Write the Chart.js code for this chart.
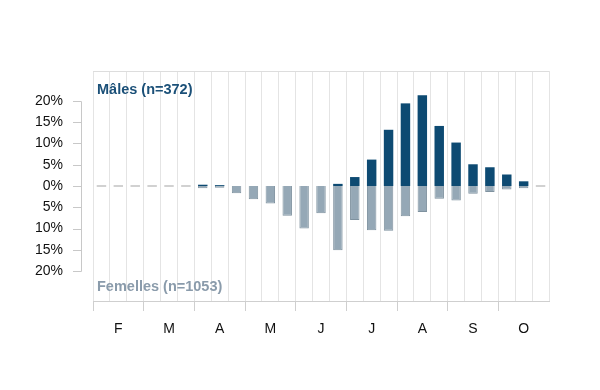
<!DOCTYPE html>
<html>
<head>
<meta charset="utf-8">
<script src="https://cdn.jsdelivr.net/npm/chart.js@4.4.1/dist/chart.umd.min.js"></script>
<style>
  html, body { margin: 0; padding: 0; background: #fff; }
  #wrap { width: 600px; height: 390px; }
</style>
</head>
<body>
<div id="wrap"><canvas id="myChart" width="600" height="390"></canvas></div>
<script>
// 3 periods per month, February to October
const months = ['F', 'M', 'A', 'M', 'J', 'J', 'A', 'S', 'O'];
const categories = months.flatMap(m => [m + '1', m + '2', m + '3']);

// % of males / females per period
const males = [0, 0, 0, 0, 0, 0, 0.3, 0.2, 0, 0, 0, 0, 0, 0, 0.5, 2.1, 6.2, 13.2, 19.4, 21.3, 14.1, 10.2, 5.1, 4.4, 2.7, 1.1, 0];
const females = [0, 0, 0, 0, 0, 0, 0.5, 0.4, 1.7, 3.1, 4.1, 7.0, 10.0, 6.4, 15.1, 8.0, 10.4, 10.5, 7.1, 6.1, 3.0, 3.4, 1.8, 1.4, 0.8, 0.5, 0];
const yTicks = [20, 15, 10, 5, 0, -5, -10, -15, -20];

const maleLabel = 'Mâles (n=372)';
const femaleLabel = 'Femelles (n=1053)';

const maleColor = '#0d4a72';
const femaleColor = '#95a8b6';

// left bracket axis, top border and the two group labels
const decorations = {
  id: 'decorations',
  afterDraw(chart) {
    const ctx = chart.ctx;
    const area = chart.chartArea;
    const y = chart.scales.y;
    const xLine = area.left - 12;
    ctx.save();
    ctx.strokeStyle = '#c8c8c8';
    ctx.lineWidth = 1;
    ctx.beginPath();
    ctx.moveTo(xLine + 0.5, Math.round(y.getPixelForValue(20)) + 0.5);
    ctx.lineTo(xLine + 0.5, Math.round(y.getPixelForValue(-20)) + 0.5);
    yTicks.forEach(v => {
      const py = Math.round(y.getPixelForValue(v)) + 0.5;
      ctx.moveTo(xLine - 8, py);
      ctx.lineTo(xLine + 0.5, py);
    });
    ctx.stroke();

    ctx.strokeStyle = '#dddddd';
    ctx.beginPath();
    ctx.moveTo(area.left, area.top + 0.5);
    ctx.lineTo(area.right, area.top + 0.5);
    ctx.stroke();

    ctx.font = 'bold 14.5px "Liberation Sans", Arial, sans-serif';
    ctx.textBaseline = 'middle';
    ctx.textAlign = 'left';
    ctx.fillStyle = '#1b5078';
    ctx.fillText(maleLabel, area.left + 4, area.top + 19);
    ctx.fillStyle = '#8a9bab';
    ctx.fillText(femaleLabel, area.left + 4, area.bottom - 14);
    ctx.restore();
  }
};

const myChart = document.getElementById('myChart');

let barChart = new Chart(myChart, {
  type: 'bar',
  data: {
    labels: categories,
    datasets: [
      {
        label: 'Femelles',
        data: females.map(v => -v),
        // zero periods show as a thin grey dash on the baseline
        backgroundColor: c => (c.raw === 0 ? '#a3a3a3' : femaleColor),
        borderColor: '#7f929f',
        borderWidth: c => (c.raw === 0 ? 0 : 1),
        borderSkipped: 'start',
        minBarLength: 1,
        grouped: false,
        barPercentage: 0.56,
        categoryPercentage: 1,
        order: 2
      },
      {
        label: 'Mâles',
        data: males,
        backgroundColor: maleColor,
        borderWidth: 0,
        grouped: false,
        barPercentage: 0.56,
        categoryPercentage: 1,
        order: 1
      }
    ]
  },
  options: {
    responsive: false,
    animation: false,
    layout: { padding: { top: 71, right: 51, left: 0, bottom: 0 } },
    plugins: {
      legend: { display: false },
      tooltip: { enabled: false }
    },
    scales: {
      x: {
        offset: true,
        grid: {
          offset: true,
          color: '#e4e4e4',
          drawTicks: true,
          tickLength: 10,
          tickColor: c => (c.index % 3 === 0 ? '#cfcfcf' : 'rgba(0,0,0,0)')
        },
        border: { display: true, color: '#cfcfcf' },
        ticks: {
          autoSkip: false,
          maxRotation: 0,
          padding: 10,
          color: '#111',
          font: { family: '"Liberation Sans", Arial, sans-serif', size: 14 },
          callback: (v, i) => (i % 3 === 1 ? months[Math.floor(i / 3)] : '')
        },
        afterFit: scale => { scale.height = 89; }
      },
      y: {
        min: -27,
        max: 27,
        afterBuildTicks: scale => { scale.ticks = yTicks.map(v => ({ value: v })); },
        grid: { display: false, drawTicks: false },
        border: { display: false },
        ticks: {
          padding: 30,
          color: '#111',
          font: { family: '"Liberation Sans", Arial, sans-serif', size: 14 },
          callback: v => Math.abs(v) + '%'
        },
        afterFit: scale => { scale.width = 93; }
      }
    }
  },
  plugins: [decorations]
});
</script>
</body>
</html>
